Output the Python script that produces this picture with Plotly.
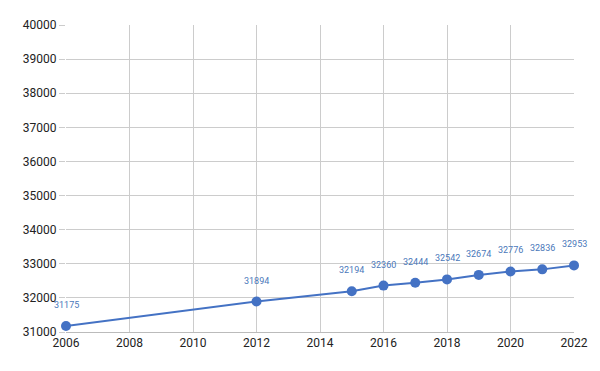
import plotly.graph_objects as go

years = [2006, 2012, 2015, 2016, 2017, 2018, 2019, 2020, 2021, 2022]
values = [31175, 31894, 32194, 32360, 32444, 32542, 32674, 32776, 32836, 32953]
y_ticks = list(range(31000, 40001, 1000))
x_ticks = list(range(2006, 2023, 2))

line_color = "#4472c4"
label_color = "#4a78ba"

fig = go.Figure()
fig.add_trace(go.Scatter(
    x=years, y=values, mode="lines+markers",
    line=dict(color=line_color, width=2),
    marker=dict(color=line_color, size=10),
    cliponaxis=False,
    hoverinfo="x+y", showlegend=False,
))

for x, y in zip(years, values):
    fig.add_annotation(x=x, y=y, text=str(y), showarrow=False, yshift=21,
                       font=dict(family="Roboto, Arial, sans-serif", size=9, color=label_color))

fig.update_layout(
    width=584, height=355,
    margin=dict(l=58, r=18, t=17, b=31, autoexpand=False),
    paper_bgcolor="white", plot_bgcolor="white",
    font=dict(family="Roboto, Arial, sans-serif", size=12, color="#222222"),
)
fig.update_xaxes(range=[2006, 2022], tickmode="array", tickvals=x_ticks,
                 ticktext=[str(v) for v in x_ticks],
                 showgrid=True, gridcolor="#cccccc", gridwidth=1, zeroline=False,
                 showline=True, linecolor="#bbbbbb", ticks="", fixedrange=True)
fig.update_yaxes(range=[31000, 40000], tickmode="array", tickvals=y_ticks,
                 ticktext=[str(v) for v in y_ticks],
                 showgrid=True, gridcolor="#cccccc", gridwidth=1, zeroline=False,
                 ticks="outside", ticklen=6, tickcolor="#cccccc", showline=False,
                 fixedrange=True)

fig.write_html("out.html")
